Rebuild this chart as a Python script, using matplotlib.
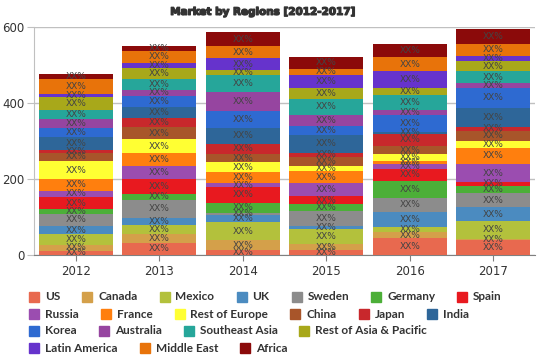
import matplotlib
matplotlib.use("Agg")
import matplotlib.pyplot as plt
from matplotlib.patches import Rectangle
from matplotlib import patheffects

years = ["2012", "2013", "2014", "2015", "2016", "2017"]
regions = ["US", "Canada", "Mexico", "UK", "Sweden", "Germany", "Spain",
           "Russia", "France", "Rest of Europe", "China", "Japan", "India",
           "Korea", "Australia", "Southeast Asia", "Rest of Asia & Pacific",
           "Latin America", "Middle East", "Africa"]
colors = ["#e8694f", "#d4a04a", "#b3c13c", "#4b8bc0", "#8c8c8c", "#4caf38", "#e8191f",
          "#9b4db0", "#ff7f0e", "#ffff33", "#a8552a", "#c8282c", "#2e6699",
          "#2e6ad1", "#9645a0", "#26a69a", "#a8a81a",
          "#6633cc", "#e8730a", "#8b0a0a"]

US = [11, 32, 13, 13, 44, 39]
Canada = [15, 22, 26, 16, 16, 4]
Mexico = [28, 25, 48, 39, 13, 46]
UK = [22, 18, 18, 9, 41, 37]
Sweden = [32, 48, 6, 38, 35, 36]
Germany = [12, 16, 26, 18, 46, 19]
Spain = [33, 39, 42, 22, 32, 11]
Russia = [16, 35, 9, 33, 11, 46]
France = [30, 32, 31, 32, 9, 44]
RestEurope = [48, 37, 24, 13, 18, 18]
China = [22, 31, 22, 25, 21, 26]
Japan = [7, 24, 27, 11, 33, 11]
India = [35, 29, 41, 46, 4, 50]
Korea = [22, 29, 44, 23, 44, 51]
Australia = [25, 17, 50, 30, 15, 13]
SEAsia = [22, 29, 46, 42, 38, 32]
RestAsia = [34, 28, 13, 28, 18, 26]
LatAm = [8, 14, 31, 35, 46, 13]
MiddleEast = [40, 30, 32, 16, 35, 33]
Africa = [14, 14, 36, 32, 34, 39]

series = [US, Canada, Mexico, UK, Sweden, Germany, Spain, Russia, France,
          RestEurope, China, Japan, India, Korea, Australia, SEAsia, RestAsia,
          LatAm, MiddleEast, Africa]

W, H = 539, 359
fig = plt.figure(figsize=(W / 100, H / 100), dpi=100)
ax = fig.add_axes([34 / W, 1 - 255 / H, (535 - 34) / W, (255 - 26.5) / H])

x = list(range(len(years)))
bottom = [0] * len(years)
for vals, col in zip(series, colors):
    ax.bar(x, vals, bottom=bottom, width=0.885, color=col, linewidth=0, zorder=3)
    for i, v in enumerate(vals):
        ax.text(x[i], bottom[i] + v / 2, "XX%", ha="center", va="center",
                fontsize=6.5, color="#444444", zorder=4)
    bottom = [b + v for b, v in zip(bottom, vals)]

ax.set_xlim(-0.5, len(years) - 0.5)
ax.set_ylim(0, 600)
ax.set_yticks([0, 200, 400, 600])
ax.set_xticks(x)
ax.set_xticklabels(years)
ax.grid(axis="y", color="#c0c0c0", linewidth=1, zorder=0)
for s in ["top", "right"]:
    ax.spines[s].set_visible(False)
ax.spines["left"].set_color("#c0c0c0")
ax.spines["bottom"].set_color("#808080")
ax.tick_params(axis="y", length=5, color="#c0c0c0", labelsize=8.5, labelcolor="#333333", pad=2)
ax.tick_params(axis="x", length=4, color="#808080", labelsize=8.5, labelcolor="#333333", pad=3)

fig.text(263 / W, 1 - 12 / H, "Market by Regions [2012-2017]", ha="center", va="center",
         color="#333333", fontsize=7.5, fontweight="bold",
         path_effects=[patheffects.withStroke(linewidth=0.9, foreground="#333333")])

# legend with flow rows
rows = [7, 6, 4, 3]
fig.canvas.draw()
renderer = fig.canvas.get_renderer()
row_y = [297, 314, 331, 348]
idx = 0
sq = 10
for r, n in enumerate(rows):
    cx = 29
    for k in range(n):
        name, col = regions[idx], colors[idx]
        yc = row_y[r]
        fig.patches.append(Rectangle((cx / W, 1 - (yc + sq / 2) / H), sq / W, sq / H,
                                     transform=fig.transFigure, color=col, figure=fig))
        t = fig.text((cx + sq + 6) / W, 1 - yc / H, name, ha="left", va="center",
                     fontsize=8.5, fontweight="bold", color="#333333",
                     family=["Lato", "DejaVu Sans"])
        bb = t.get_window_extent(renderer)
        cx = cx + sq + 6 + bb.width + 22
        idx += 1

fig.savefig("out.png", dpi=100)
